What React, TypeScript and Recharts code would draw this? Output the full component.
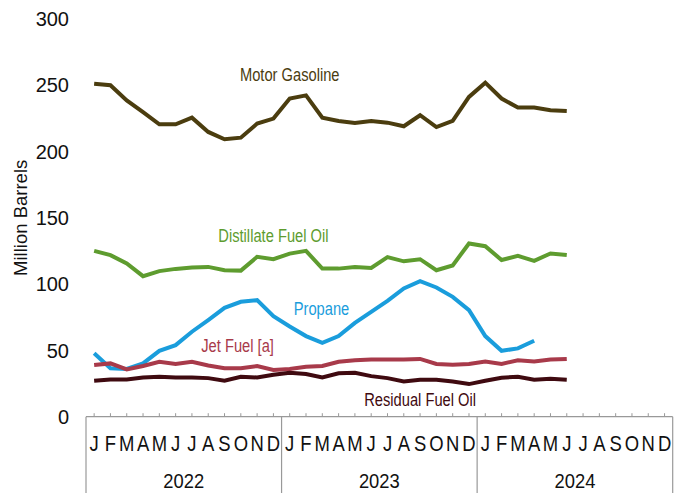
import React from 'react';
import { LineChart, Line, XAxis, YAxis, ReferenceDot } from 'recharts';

const monthLetters = ['J', 'F', 'M', 'A', 'M', 'J', 'J', 'A', 'S', 'O', 'N', 'D'];
const years = ['2022', '2023', '2024'];
const yTicks = [0, 50, 100, 150, 200, 250, 300];

const motorGasoline = [251.2, 250, 238.6, 229.8, 220.6, 220.6, 225.6, 214.8, 209.3, 210.5, 221.1, 224.9,
  240, 242.4, 225.6, 223.1, 221.6, 223.1, 221.8, 219.1, 227.4, 218.5, 223.1, 241.2,
  252, 240, 233.2, 233.2, 231.1, 230.6];
const distillate = [125.1, 121.9, 115.6, 106, 109.8, 111.5, 112.6, 113, 110.5, 110.2, 120.6, 118.8,
  123, 125.1, 111.7, 111.7, 113, 112.2, 120.4, 117.2, 118.8, 110.5, 114.1, 130.7,
  128.6, 118.2, 121.3, 117.6, 123.1, 121.9];
const propane = [47.8, 36.5, 36, 40.2, 49.7, 54, 64.1, 72.9, 82.1, 86.7, 87.9, 75.9,
  68, 60.8, 55.8, 60.8, 70.8, 79.1, 87.4, 96.8, 102.3, 97.5, 90.4, 80.4,
  60.8, 49.7, 51.5, 57.3];
const jetFuel = [39, 40.2, 35.7, 38.2, 41.4, 39.7, 41.4, 38.6, 36.5, 36.5, 38.2, 35.2,
  36, 37.7, 38.2, 41.4, 42.6, 43.1, 43.1, 43.1, 43.6, 39.8, 39.1, 39.8,
  41.7, 39.8, 42.6, 41.7, 43.1, 43.6];
const residual = [27.1, 28.1, 28.1, 29.6, 30.1, 29.6, 29.6, 29.1, 27.1, 30.1, 29.6, 31.6,
  33.2, 32.2, 29.6, 32.7, 33.2, 30.6, 29.1, 26.6, 27.9, 27.9, 26.6, 24.6,
  27.1, 29.4, 30.1, 27.9, 28.6, 27.9];

const series = [
  { key: 'gas', name: 'Motor Gasoline', values: motorGasoline, color: '#4b3d0f' },
  { key: 'dist', name: 'Distillate Fuel Oil', values: distillate, color: '#5e9c2f' },
  { key: 'prop', name: 'Propane', values: propane, color: '#1a9ddc' },
  { key: 'jet', name: 'Jet Fuel [a]', values: jetFuel, color: '#a83a4a' },
  { key: 'resid', name: 'Residual Fuel Oil', values: residual, color: '#3f0a10' },
];

// label anchor positions in data coordinates (month index, value)
const seriesLabels = [
  { text: 'Motor Gasoline', x: 12.0, y: 258.3, color: '#4b3d0f' },
  { text: 'Distillate Fuel Oil', x: 11.0, y: 136.9, color: '#5e9c2f' },
  { text: 'Propane', x: 13.95, y: 81.7, color: '#1a9ddc' },
  { text: 'Jet Fuel [a]', x: 8.8, y: 53.5, color: '#a83a4a' },
  { text: 'Residual Fuel Oil', x: 20.0, y: 12.6, color: '#3f0a10' },
];

const data: any[] = [];
for (let i = 0; i < 36; i++) {
  const row: any = { t: i };
  series.forEach((s) => {
    if (i < s.values.length) row[s.key] = s.values[i];
  });
  data.push(row);
}

const monthTicks = data.map((d) => d.t);
const yearBoundaryTicks = [-0.5, 11.5, 23.5, 35.5];
const yearCenterTicks = [5.5, 17.5, 29.5];
const allTicks = [...yearBoundaryTicks, ...monthTicks, ...yearCenterTicks].sort((a, b) => a - b);

const FONT = 'Liberation Sans, Arial, sans-serif';

const AxisTick = (props: any) => {
  const { x, y, payload } = props;
  const v = payload.value;
  if (Number.isInteger(v)) {
    const letter = monthLetters[v % 12];
    return (
      <g>
        <line x1={x} x2={x} y1={y} y2={y - 3.5} stroke="#999" strokeWidth={1} />
        <text
          transform={`translate(${x} ${y + 34}) scale(0.84 1)`}
          textAnchor="middle"
          fontSize={22}
          fontFamily={FONT}
          fill="#111"
        >
          {letter}
        </text>
      </g>
    );
  }
  if (yearBoundaryTicks.includes(v)) {
    return <line x1={x} x2={x} y1={y} y2={y + 80} stroke="#999" strokeWidth={1.2} />;
  }
  const yi = yearCenterTicks.indexOf(v);
  return (
    <text
      transform={`translate(${x} ${y + 71}) scale(0.92 1)`}
      textAnchor="middle"
      fontSize={20}
      fontFamily={FONT}
      fill="#111"
    >
      {years[yi]}
    </text>
  );
};

const makeLabel = (text: string, color: string) => (p: any) => {
  const vb = p.viewBox || {};
  const cx = (vb.x ?? 0) + (vb.width ?? 0) / 2;
  const cy = (vb.y ?? 0) + (vb.height ?? 0) / 2;
  return (
    <text
      transform={`translate(${cx} ${cy}) scale(0.84 1)`}
      textAnchor="middle"
      dominantBaseline="central"
      fontSize={17.5}
      fontFamily={FONT}
      fill={color}
    >
      {text}
    </text>
  );
};

export default function App() {
  return (
    <div style={{ position: 'absolute', left: 0, top: 0, background: '#fff' }}>
      <LineChart
        width={682}
        height={493}
        data={data}
        margin={{ top: 19, right: 9.3, bottom: 0, left: 0 }}
      >
        <XAxis
          dataKey="t"
          type="number"
          domain={[-0.5, 35.5]}
          allowDataOverflow
          ticks={allTicks}
          interval={0}
          height={76.3}
          tickSize={0}
          tickMargin={0}
          tickLine={false}
          axisLine={{ stroke: '#999', strokeWidth: 1.2 }}
          tick={<AxisTick />}
        />
        <YAxis
          domain={[0, 300]}
          ticks={yTicks}
          interval={0}
          width={86}
          axisLine={false}
          tickLine={false}
          tickSize={0}
          tickMargin={17}
          tick={{ fontSize: 20, fontFamily: FONT, fill: '#111' }}
          label={{
            content: (p: any) => {
              const vb = p.viewBox;
              const cx = vb.x + 21;
              const cy = vb.y + vb.height / 2;
              return (
                <text
                  x={cx}
                  y={cy}
                  transform={`rotate(-90 ${cx} ${cy})`}
                  textAnchor="middle"
                  dominantBaseline="central"
                  fontSize={18.5}
                  fontFamily={FONT}
                  fill="#111"
                >
                  Million Barrels
                </text>
              );
            },
          }}
        />
        {series.map((s) => (
          <Line
            key={s.key}
            dataKey={s.key}
            stroke={s.color}
            strokeWidth={4}
            dot={false}
            activeDot={false}
            isAnimationActive={false}
            connectNulls={false}
          />
        ))}
        {seriesLabels.map((l) => (
          <ReferenceDot
            key={l.text}
            x={l.x}
            y={l.y}
            r={0}
            fill="none"
            stroke="none"
            label={{ content: makeLabel(l.text, l.color) }}
          />
        ))}
      </LineChart>
    </div>
  );
}
